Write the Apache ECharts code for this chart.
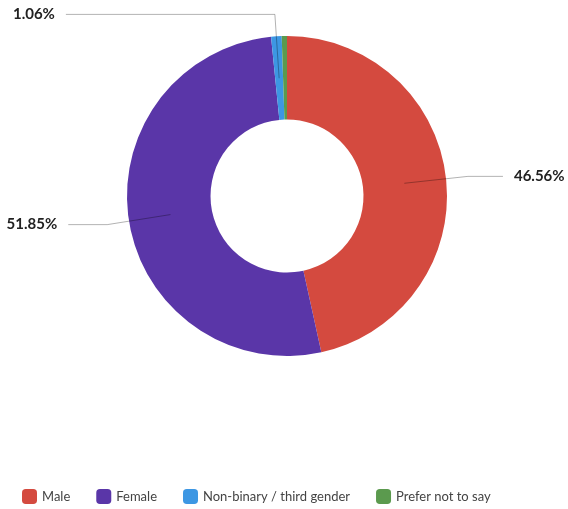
<!DOCTYPE html>
<html>
<head>
<meta charset="utf-8">
<script src="https://cdn.jsdelivr.net/npm/echarts@6/dist/echarts.min.js"></script>
<style>
  html, body { margin: 0; padding: 0; background: #fff; }
  #chart { width: 568px; height: 509px; }
</style>
</head>
<body>
<div id="chart"></div>
<script>
// Gender split of respondents, in percent
const categories = ['Male', 'Female', 'Non-binary / third gender', 'Prefer not to say'];
const shares = [46.56, 51.85, 1.06, 0.53];
const colors = ['#d44a3f', '#5a36a8', '#3d97e3', '#5b9a4e'];
const labelled = [true, true, true, false];
// horizontal run of each label line
const lineRun = [35, 39, 209, 35];

const FONT = 'Lato, "Open Sans", sans-serif';
const CENTER = [287, 196];

const ringData = categories.map((name, i) => ({
  name, value: shares[i], itemStyle: { color: colors[i] }
}));

// Transparent inner pie whose outer edge sits at the middle of the ring,
// so label lines start mid-ring and cross over the slices.
const labelData = categories.map((name, i) => ({
  name, value: shares[i],
  label: { show: labelled[i] },
  labelLine: { show: labelled[i], length2: lineRun[i] }
}));

const chart = echarts.init(document.getElementById('chart'), null, { renderer: 'canvas' });
chart.setOption({
  animation: false,
  backgroundColor: '#ffffff',
  color: colors,
  legend: {
    data: categories,
    left: 17,
    top: 484,
    icon: 'roundRect',
    itemWidth: 15,
    itemHeight: 15,
    itemGap: 26,
    textStyle: { fontFamily: FONT, fontSize: 13, color: '#444' }
  },
  series: [
    {
      type: 'pie',
      z: 2,
      center: CENTER,
      radius: [76.5, 160],
      data: ringData,
      label: { show: false },
      labelLine: { show: false },
      silent: true
    },
    {
      type: 'pie',
      z: 5,
      center: CENTER,
      radius: [0, 118],
      data: labelData,
      silent: true,
      itemStyle: { color: 'rgba(0,0,0,0)' },
      emphasis: { disabled: true },
      avoidLabelOverlap: true,
      label: {
        position: 'outside',
        distanceToLabelLine: 11,
        bleedMargin: 0,
        overflow: 'none',
        formatter: p => p.value.toFixed(2) + '%',
        fontFamily: FONT,
        fontSize: 15,
        fontWeight: 'bold',
        color: '#222'
      },
      labelLine: {
        length: 64,
        length2: 35,
        lineStyle: { color: 'rgba(0,0,0,0.3)', width: 1 }
      }
    }
  ]
});
</script>
</body>
</html>
